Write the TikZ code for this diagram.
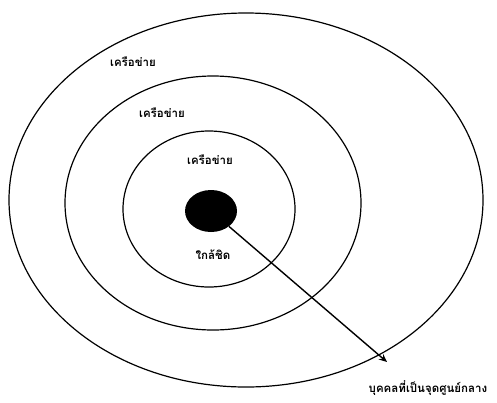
\documentclass[tikz,border=0pt]{standalone}
\usepackage{fontspec}
\newfontfamily\thaifont[Script=Thai]{Loma}
\usetikzlibrary{positioning,arrows.meta,shapes.geometric}

\begin{document}
\begin{tikzpicture}[
    x=1pt,y=-1pt,
    ring/.style={line width=1.2pt},
    label/.style={font=\thaifont\bfseries\fontsize{11.5}{13}\selectfont,inner sep=1pt},
    core/.style={ellipse,fill=black,minimum width=52pt,minimum height=42pt,inner sep=0pt}
]
\useasboundingbox (0,0) rectangle (497,402);

% rings
\draw[ring] (246,200) ellipse [x radius=237, y radius=187];
\draw[ring] (213,203) ellipse [x radius=148, y radius=127];
\draw[ring] (209,209) ellipse [x radius=86, y radius=78];

\node[core] (centre) at (211,211) {};

\node[label] (outer) at (133,62) {เครือข่าย};
\node[label] (middle) at (162,113) {เครือข่าย};
\node[label] (inner) at (210,160) {เครือข่าย};
\node[label] (close) at (213,255) {ใกล้ชิด};
\node[label] (person) at (428,388) {บุคคลที่เป็นจุดศูนย์กลาง};

\coordinate (tip) at (387,362);
\draw[line width=1.4pt,-{Stealth[length=8pt,width=7pt]}] (centre) -- (tip);

\end{tikzpicture}
\end{document}
